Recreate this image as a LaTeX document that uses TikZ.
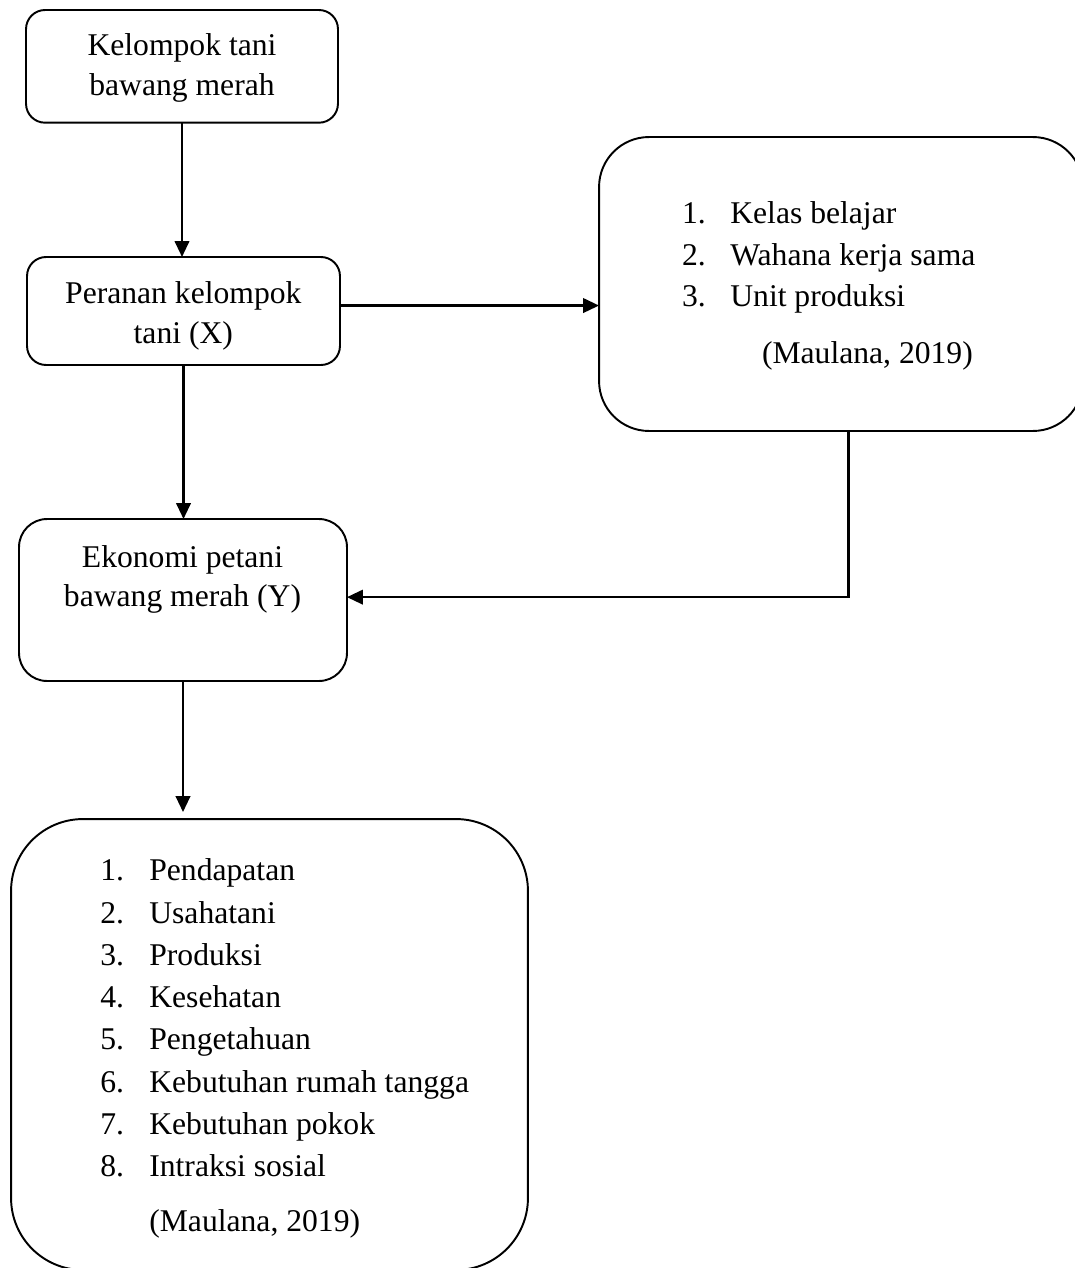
\documentclass[tikz,border=0pt]{standalone}
\usepackage{fontspec}
\setmainfont{Liberation Serif}
\usetikzlibrary{arrows.meta}
\begin{document}
\begin{tikzpicture}[x=0.02cm,y=-0.02cm,
  box/.style={draw, line width=1.1pt, inner sep=0pt, outer sep=0pt, rectangle, rounded corners=#1},
  txt/.style={inner sep=0pt, font=\fontsize{18}{22}\selectfont, anchor=base},
  itm/.style={inner sep=0pt, font=\fontsize{18}{22}\selectfont, anchor=base west},
  arr/.style={line width=1.4pt, -{Triangle[length=0.32cm,width=0.29cm]}}]
\useasboundingbox (0,0) rectangle (1075,1268);
% boxes
\node[box=0.38cm, minimum width=6.24cm, minimum height=2.254cm] (A) at (182,66.35) {};
\node[box=0.38cm, minimum width=6.26cm, minimum height=2.16cm] (B) at (183.5,311) {};
\node[box=1.0cm, minimum width=9.68cm, minimum height=5.88cm] (R) at (841,284) {};
\node[box=0.56cm, minimum width=6.56cm, minimum height=3.24cm] (Y) at (183,600) {};
\node[box=1.44cm, minimum width=10.34cm, minimum height=9.02cm] (L) at (269.5,1044.5) {};
% texts
\node[txt] (a1) at (182,55) {Kelompok tani};
\node[txt] (a2) at (182,95) {bawang merah};
\node[txt] (b1) at (183.3,303.3) {Peranan kelompok};
\node[txt] (b2) at (183.3,343.3) {tani (X)};
\node[txt] (y1) at (182.5,567.3) {Ekonomi petani};
\node[txt] (y2) at (182.5,606) {bawang merah (Y)};
\foreach \t [count=\i] in {Kelas belajar, Wahana kerja sama, Unit produksi}{
  \node[itm] (rn\i) at (681.7,{223.3+41.7*(\i-1)}) {\i.};
  \node[itm] (rt\i) at (730,{223.3+41.7*(\i-1)}) {\t};
}
\node[itm] (rc) at (761.7,363.3) {(Maulana, 2019)};
\foreach \t [count=\i] in {Pendapatan, Usahatani, Produksi, Kesehatan, Pengetahuan, Kebutuhan rumah tangga, Kebutuhan pokok, Intraksi sosial}{
  \node[itm] (ln\i) at (100,{880.7+42.3*(\i-1)}) {\i.};
  \node[itm] (lt\i) at (149,{880.7+42.3*(\i-1)}) {\t};
}
\node[itm] (lc) at (149,1231.7) {(Maulana, 2019)};
% connectors
\draw[arr] (A.south) -- (A.south |- B.north);
\draw[arr] (B.2) -- (R.west |- B.2);
\draw[arr] (B.south) -- (B.south |- Y.north);
\draw[arr] (R.-87.5) |- (Y.1);
\draw[arr, shorten >=0.14cm] (Y.south) -- (Y.south |- L.north);
\end{tikzpicture}
\end{document}
